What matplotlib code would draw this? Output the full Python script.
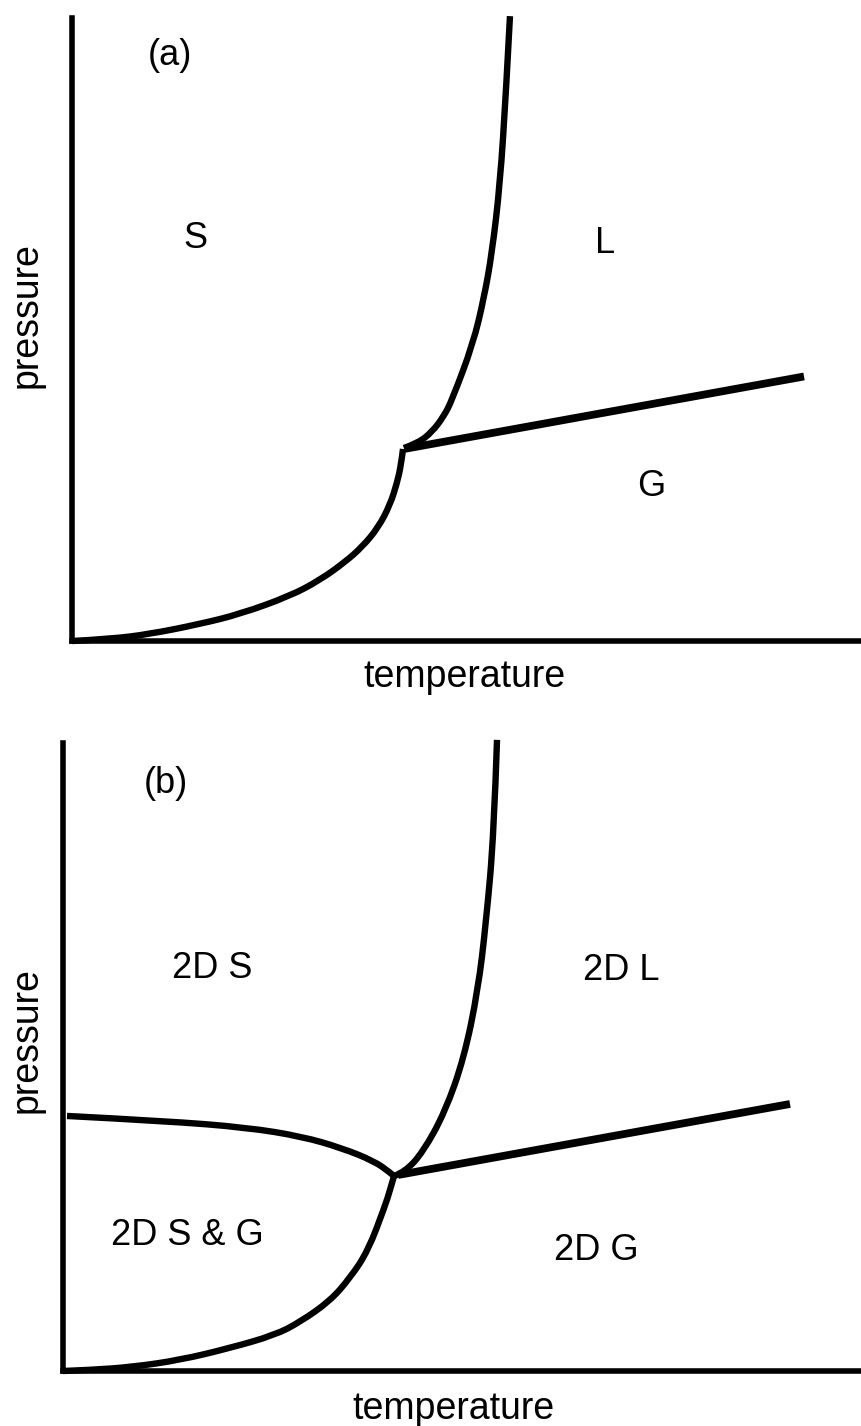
import matplotlib
matplotlib.use("Agg")
import matplotlib.pyplot as plt
from matplotlib.path import Path
from matplotlib.patches import PathPatch

plt.rcParams['font.family'] = ['Liberation Sans', 'DejaVu Sans']

# ---- panel (a): bulk phase diagram ----
a_melt_T = [42.03, 43.80, 45.57, 47.09, 48.10, 50.76, 52.15, 53.16, 54.18, 54.94, 55.44]
a_melt_P = [30.98, 31.78, 33.55, 36.12, 38.68, 47.67, 55.06, 62.28, 73.35, 88.12, 100.3]

a_vap_T = [42.03, 92.66]
a_vap_P = [30.82, 42.46]

a_sub_T = [0, 4.81, 9.87, 16.20, 21.27, 27.59, 31.39, 34.56, 36.71, 38.73, 40.25, 41.14, 41.65, 41.90]
a_sub_P = [0, 0.32, 1.12, 2.73, 4.33, 7.22, 9.79, 12.68, 15.09, 18.14, 21.83, 25.36, 28.25, 30.82]

a_labels = ["(a)", "S", "L", "G"]
a_label_T = [12.41, 15.57, 67.47, 73.29]
a_label_P = [94.06, 64.53, 63.88, 24.72]

# ---- panel (b): 2D phase diagram ----
b_melt_T = [41.43, 42.80, 45.06, 47.81, 50.19, 51.94, 52.94, 53.94, 54.32]
b_melt_P = [31.05, 31.69, 34.87, 41.24, 49.84, 60.67, 71.34, 85.67, 100.5]

b_vap_T = [41.93, 90.99]
b_vap_P = [31.21, 42.52]

b_solid_T = [0.50, 12.77, 23.03, 29.91, 34.79, 38.92, 40.93, 41.43]
b_solid_P = [40.61, 39.81, 38.77, 37.34, 35.54, 33.44, 31.61, 31.05]

b_sub_T = [41.43, 40.93, 40.30, 38.17, 35.92, 33.42, 29.66, 26.53, 20.90, 14.64, 8.64, 3.38, 0]
b_sub_P = [31.05, 28.82, 26.27, 19.11, 14.81, 11.15, 7.80, 5.73, 3.66, 1.75, 0.64, 0.16, 0]

b_labels = ["(b)", "2D S", "2D L", "2D S & G", "2D G"]
b_label_T = [12.89, 18.65, 69.84, 15.52, 66.71]
b_label_P = [93.63, 64.17, 63.85, 21.50, 19.11]

W, H = 862, 1426
fig = plt.figure(figsize=(W / 100, H / 100), dpi=100)
fig.patch.set_facecolor('white')


def make_axes(left, top, bottom):
    # pixel box -> figure fraction
    return fig.add_axes([left / W, 1 - bottom / H, 1 - left / W, (bottom - top) / H])


def style(ax):
    ax.set_xlim(0, 100)
    ax.set_ylim(0, 100)
    for s in ('top', 'right'):
        ax.spines[s].set_visible(False)
    for s in ('left', 'bottom'):
        ax.spines[s].set_linewidth(4.0)
        ax.spines[s].set_color('black')
        ax.spines[s].set_capstyle('projecting')
    ax.set_xticks([])
    ax.set_yticks([])
    ax.patch.set_alpha(0)


def smooth_curve(ax, xs, ys, lw=4.6):
    # quadratic B-spline path: the inner points act as control points,
    # segments join at the midpoints between neighbours
    pts = list(zip(xs, ys))
    verts = [pts[0]]
    codes = [Path.MOVETO]
    for i in range(1, len(pts) - 1):
        mid_next = ((pts[i][0] + pts[i + 1][0]) / 2, (pts[i][1] + pts[i + 1][1]) / 2)
        end = pts[i + 1] if i == len(pts) - 2 else mid_next
        verts += [pts[i], end]
        codes += [Path.CURVE3, Path.CURVE3]
    if len(pts) == 2:
        verts.append(pts[1])
        codes.append(Path.LINETO)
    patch = PathPatch(Path(verts, codes), facecolor='none', edgecolor='black',
                      lw=lw, joinstyle='round', capstyle='butt', clip_on=False)
    ax.add_patch(patch)


LABEL_FS = 26
AXIS_FS = 27

ax1 = make_axes(72, 18, 641)
style(ax1)
smooth_curve(ax1, a_melt_T, a_melt_P)
smooth_curve(ax1, a_sub_T, a_sub_P)
ax1.plot(a_vap_T, a_vap_P, color='black', lw=5.6, solid_capstyle='butt', clip_on=False)
for t, x, y in zip(a_labels, a_label_T, a_label_P):
    ax1.text(x, y, t, fontsize=LABEL_FS, ha='center', va='center')
ax1.set_xlabel('temperature', fontsize=AXIS_FS, va='center')
ax1.xaxis.set_label_coords(0.497, -0.058)
ax1.set_ylabel('pressure', fontsize=AXIS_FS, va='center')
ax1.yaxis.set_label_coords(-0.058, 0.523)

ax2 = make_axes(63, 743, 1371)
style(ax2)
smooth_curve(ax2, b_melt_T, b_melt_P)
smooth_curve(ax2, b_solid_T, b_solid_P)
smooth_curve(ax2, b_sub_T, b_sub_P)
ax2.plot(b_vap_T, b_vap_P, color='black', lw=5.6, solid_capstyle='butt', clip_on=False)
for t, x, y in zip(b_labels, b_label_T, b_label_P):
    ax2.text(x, y, t, fontsize=LABEL_FS, ha='center', va='center')
ax2.set_xlabel('temperature', fontsize=AXIS_FS, va='center')
ax2.xaxis.set_label_coords(0.489, -0.0605)
ax2.set_ylabel('pressure', fontsize=AXIS_FS, va='center')
ax2.yaxis.set_label_coords(-0.046, 0.527)

fig.savefig('out.png', dpi=100, facecolor='white')
